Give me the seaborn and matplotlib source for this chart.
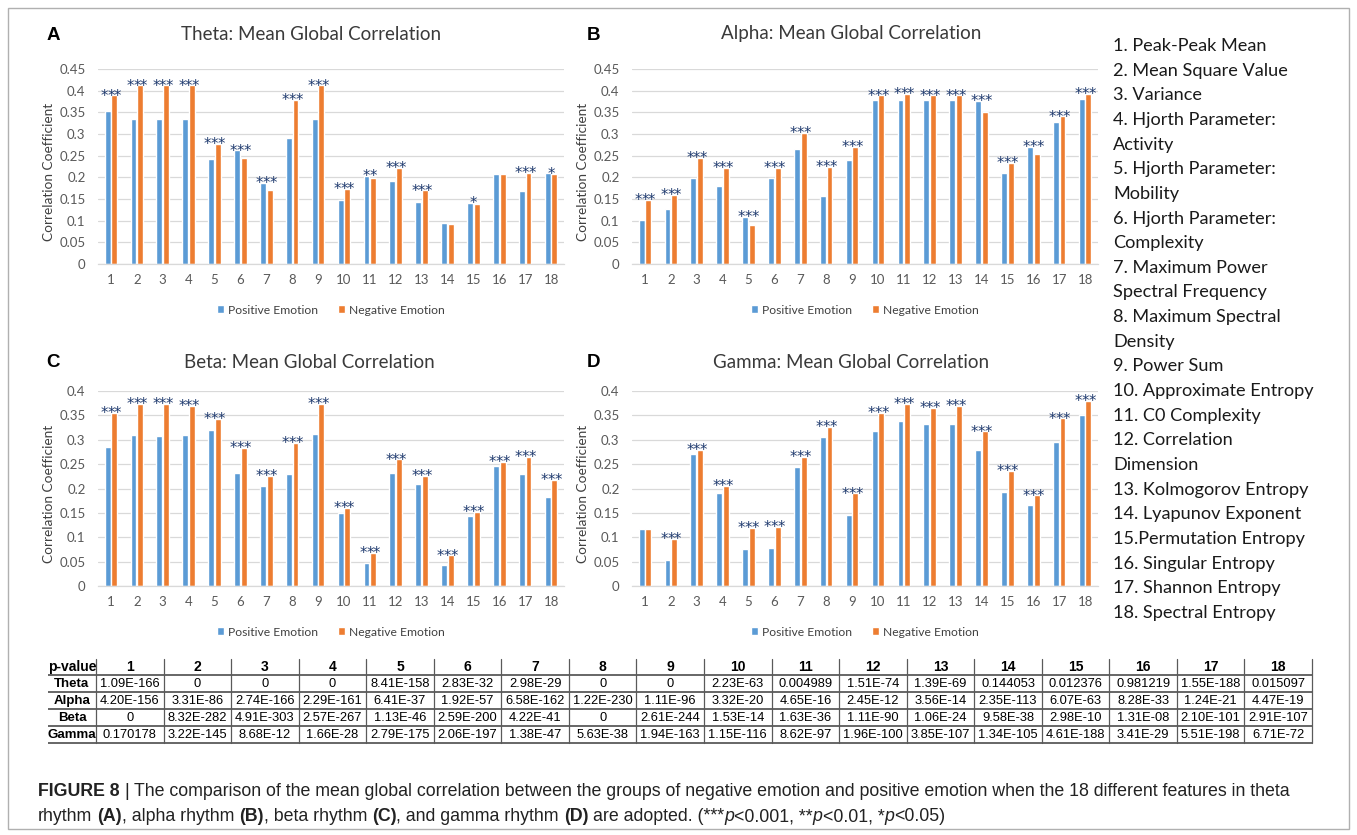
import numpy as np
import pandas as pd
import seaborn as sns
import matplotlib.pyplot as plt
from matplotlib.patches import Patch, Rectangle

# ---------------- data ----------------
features = [str(i) for i in range(1, 19)]

theta_pos = [0.352, 0.334, 0.334, 0.334, 0.243, 0.262, 0.188, 0.291, 0.334,
             0.148, 0.204, 0.191, 0.143, 0.095, 0.141, 0.207, 0.169, 0.209]
theta_neg = [0.389, 0.412, 0.412, 0.412, 0.277, 0.245, 0.171, 0.379, 0.412,
             0.174, 0.199, 0.222, 0.170, 0.092, 0.138, 0.207, 0.211, 0.207]
alpha_pos = [0.102, 0.127, 0.199, 0.179, 0.109, 0.199, 0.265, 0.156, 0.240,
             0.379, 0.379, 0.379, 0.379, 0.376, 0.211, 0.270, 0.327, 0.380]
alpha_neg = [0.148, 0.160, 0.245, 0.222, 0.089, 0.222, 0.303, 0.224, 0.270,
             0.389, 0.392, 0.389, 0.389, 0.351, 0.234, 0.255, 0.341, 0.392]
beta_pos = [0.285, 0.310, 0.308, 0.310, 0.321, 0.231, 0.206, 0.229, 0.312,
            0.149, 0.048, 0.231, 0.210, 0.044, 0.143, 0.246, 0.229, 0.182]
beta_neg = [0.355, 0.373, 0.373, 0.370, 0.343, 0.283, 0.226, 0.294, 0.373,
            0.160, 0.068, 0.260, 0.226, 0.063, 0.152, 0.255, 0.265, 0.217]
gamma_pos = [0.116, 0.053, 0.270, 0.191, 0.076, 0.077, 0.244, 0.306, 0.146,
             0.317, 0.338, 0.333, 0.333, 0.279, 0.193, 0.167, 0.296, 0.351]
gamma_neg = [0.116, 0.096, 0.279, 0.206, 0.120, 0.122, 0.265, 0.326, 0.190,
             0.355, 0.373, 0.366, 0.369, 0.317, 0.236, 0.186, 0.344, 0.380]

theta_p = ["1.09E-166", "0", "0", "0", "8.41E-158", "2.83E-32", "2.98E-29", "0", "0",
           "2.23E-63", "0.004989", "1.51E-74", "1.39E-69", "0.144053", "0.012376",
           "0.981219", "1.55E-188", "0.015097"]
alpha_p = ["4.20E-156", "3.31E-86", "2.74E-166", "2.29E-161", "6.41E-37", "1.92E-57",
           "6.58E-162", "1.22E-230", "1.11E-96", "3.32E-20", "4.65E-16", "2.45E-12",
           "3.56E-14", "2.35E-113", "6.07E-63", "8.28E-33", "1.24E-21", "4.47E-19"]
beta_p = ["0", "8.32E-282", "4.91E-303", "2.57E-267", "1.13E-46", "2.59E-200", "4.22E-41",
          "0", "2.61E-244", "1.53E-14", "1.63E-36", "1.11E-90", "1.06E-24", "9.58E-38",
          "2.98E-10", "1.31E-08", "2.10E-101", "2.91E-107"]
gamma_p = ["0.170178", "3.22E-145", "8.68E-12", "1.66E-28", "2.79E-175", "2.06E-197",
           "1.38E-47", "5.63E-38", "1.94E-163", "1.15E-116", "8.62E-97", "1.96E-100",
           "3.85E-107", "1.34E-105", "4.61E-188", "3.41E-29", "5.51E-198", "6.71E-72"]

band_names = ["Theta", "Alpha", "Beta", "Gamma"]
panel_letters = ["A", "B", "C", "D"]
group_names = ["Positive Emotion", "Negative Emotion"]

feature_names = [
    "1. Peak-Peak Mean", "2. Mean Square Value", "3. Variance",
    "4. Hjorth Parameter:", "Activity", "5. Hjorth Parameter:", "Mobility",
    "6. Hjorth Parameter:", "Complexity", "7. Maximum Power",
    "Spectral Frequency", "8. Maximum Spectral", "Density", "9. Power Sum",
    "10. Approximate Entropy", "11. C0 Complexity", "12. Correlation",
    "Dimension", "13. Kolmogorov Entropy", "14. Lyapunov Exponent",
    "15.Permutation Entropy", "16. Singular Entropy", "17. Shannon Entropy",
    "18. Spectral Entropy",
]

# ---------------- style ----------------
sns.set_theme(style="white")
plt.rcParams["font.family"] = ["Lato", "DejaVu Sans"]

W, H = 1357, 835
fig = plt.figure(figsize=(W / 100, H / 100), dpi=100)
fig.patch.set_facecolor("white")

BLUE = "#5B9BD5"
ORANGE = "#ED7D31"
GRID = "#D9D9D9"
TICK = "#595959"
STAR = "#1F3A6E"


def px_axes(left, top, right, bottom):
    return fig.add_axes([left / W, 1 - bottom / H, (right - left) / W, (bottom - top) / H])


def stars_for(p):
    if p < 0.001:
        return 3
    if p < 0.01:
        return 2
    if p < 0.05:
        return 1
    return 0


panels = [
    (theta_pos, theta_neg, theta_p, 0.45, (98, 69, 564, 264), (311, 34), (53, 36)),
    (alpha_pos, alpha_neg, alpha_p, 0.45, (632, 69, 1098, 264), (851, 34), (594, 36)),
    (beta_pos, beta_neg, beta_p, 0.40, (98, 391, 564, 586), (309, 362), (53, 363)),
    (gamma_pos, gamma_neg, gamma_p, 0.40, (632, 391, 1098, 586), (851, 362), (594, 363)),
]

for k, (pos, neg, pvals, ymax, box, tpos, lpos) in enumerate(panels):
    ax = px_axes(*box)
    df = pd.DataFrame({
        "Feature": features * 2,
        "Value": pos + neg,
        "Group": [group_names[0]] * 18 + [group_names[1]] * 18,
    })
    sns.barplot(data=df, x="Feature", y="Value", hue="Group", order=features,
                hue_order=group_names, palette=[BLUE, ORANGE], saturation=1,
                width=0.52, gap=0.12, legend=False, ax=ax, errorbar=None)
    ax.set_xlim(-0.5, 17.5)
    ax.set_ylim(0, ymax)
    yt = np.round(np.arange(0, ymax + 1e-9, 0.05), 2)
    ax.set_yticks(yt)
    ax.set_yticklabels([f"{v:g}" for v in yt])
    ax.yaxis.grid(True, color=GRID, linewidth=0.9)
    ax.set_axisbelow(True)
    for s in ["top", "right", "left"]:
        ax.spines[s].set_visible(False)
    ax.spines["bottom"].set_color(GRID)
    ax.spines["bottom"].set_linewidth(0.9)
    ax.tick_params(axis="both", length=0, colors=TICK, labelsize=9.5)
    ax.tick_params(axis="x", pad=7)
    ax.tick_params(axis="y", pad=9)
    ax.set_xlabel("")
    ax.set_ylabel("Correlation Coefficient", fontsize=9.8, color="#404040")
    ax.yaxis.set_label_coords(-0.092, 0.47)

    # significance marks above each feature pair, one asterisk at a time
    for i, (a, b, p) in enumerate(zip(pos, neg, pvals)):
        n = stars_for(float(p))
        for j in range(n):
            dx = (j - (n - 1) / 2) * 4.9
            ax.annotate("*", (i, max(a, b)), xytext=(dx, -3.8), textcoords="offset points",
                        ha="center", va="baseline", color=STAR, fontsize=10.5,
                        family="DejaVu Sans")

    handles = [Patch(facecolor=BLUE), Patch(facecolor=ORANGE)]
    ax.legend(handles, group_names, loc="center", bbox_to_anchor=(0.5, -46 / 195),
              bbox_transform=ax.transAxes, ncol=2, frameon=False, fontsize=8.7,
              handlelength=0.6, handleheight=0.6, handletextpad=0.35,
              columnspacing=1.6, labelcolor="#404040")

    fig.text(tpos[0] / W, 1 - tpos[1] / H, f"{band_names[k]}: Mean Global Correlation",
             ha="center", va="center", fontsize=13.5, color="#3A3A3A")
    fig.text(lpos[0] / W, 1 - lpos[1] / H, panel_letters[k], ha="center", va="center",
             fontsize=13.5, fontweight="bold", family="Liberation Sans", color="black")

# ---------------- feature list ----------------
lax = px_axes(1100, 20, 1349, 640)
lax.set_axis_off()
lax.set_xlim(1100, 1349)
lax.set_ylim(640, 20)
for j, name in enumerate(feature_names):
    lax.text(1113, 46 + j * 24.65, name, ha="left", va="center", fontsize=13.1,
             color="#1A1A1A", clip_on=True)

# ---------------- p-value table ----------------
tax = px_axes(40, 650, 1320, 750)
tax.set_axis_off()
tax.set_xlim(40, 1320)
tax.set_ylim(750, 650)
t_left, t_right = 48, 1312
first_w = 48
col_w = (t_right - t_left - first_w) / 18
rows_y = [657, 675, 692, 709, 726, 743]
col_x = [t_left, t_left + first_w] + [t_left + first_w + (c + 1) * col_w for c in range(18)]
table_font = "Liberation Sans"
LINE = "#5A5A5A"

for yy in rows_y[1:]:
    tax.plot([t_left, t_right], [yy, yy], color=LINE, lw=1.3, solid_capstyle="butt")
for xx in col_x[1:]:
    tax.plot([xx, xx], [rows_y[0] + 2, rows_y[-1]], color=LINE, lw=0.9)

header = ["p-value"] + features
for c, h in enumerate(header):
    cx = (col_x[c] + col_x[c + 1]) / 2
    tax.text(cx, (rows_y[0] + rows_y[1]) / 2 + 1, h, ha="center", va="center",
             fontsize=10, fontweight="bold", family=table_font, color="black")

for r, (band, pv) in enumerate(zip(band_names, [theta_p, alpha_p, beta_p, gamma_p])):
    cy = (rows_y[r + 1] + rows_y[r + 2]) / 2 + 0.5
    tax.text((col_x[0] + col_x[1]) / 2, cy, band, ha="center", va="center",
             fontsize=9.5, fontweight="bold", family=table_font, color="black")
    for c, v in enumerate(pv):
        cx = (col_x[c + 1] + col_x[c + 2]) / 2
        tax.text(cx, cy, v, ha="center", va="center", fontsize=9.3,
                 family=table_font, color="black")

# ---------------- caption ----------------
renderer = fig.canvas.get_renderer()
CAP = dict(family="Liberation Sans", fontsize=12.8, color="#222222")


def width_of(s, **kw):
    t = fig.text(0, 0, s, **kw)
    w = t.get_window_extent(renderer).width
    t.remove()
    return w


def draw_runs(x, y, runs):
    for s, weight, style in runs:
        kw = dict(CAP, fontweight=weight, fontstyle=style)
        sp = width_of("x x", **kw) - width_of("xx", **kw)
        lead = len(s) - len(s.lstrip(" "))
        trail = len(s) - len(s.rstrip(" "))
        core = s.strip(" ")
        x += lead * sp
        if core:
            t = fig.text(x / W, 1 - y / H, core, va="baseline", ha="left", **kw)
            x += t.get_window_extent(renderer).width
        x += trail * sp


N, B, I = "normal", "bold", "italic"
draw_runs(38, 796, [
    ("FIGURE 8", B, N), (" | ", N, N),
    ("The comparison of the mean global correlation between the groups of negative "
     "emotion and positive emotion when the 18 different features in theta", N, N),
])
draw_runs(38, 821, [
    ("rhythm ", N, N), ("(A)", B, N), (", alpha rhythm ", N, N), ("(B)", B, N),
    (", beta rhythm ", N, N), ("(C)", B, N), (", and gamma rhythm ", N, N), ("(D)", B, N),
    (" are adopted. (***", N, N), ("p", N, I), ("<0.001, **", N, N), ("p", N, I),
    ("<0.01, *", N, N), ("p", N, I), ("<0.05)", N, N),
])

# outer frame
fig.add_artist(Rectangle((8 / W, 1 - 829 / H), (1349 - 8) / W, (829 - 8) / H,
                         transform=fig.transFigure, fill=False, edgecolor="#B0B0B0",
                         linewidth=1.0))

fig.savefig("out.png", dpi=100, facecolor="white")
